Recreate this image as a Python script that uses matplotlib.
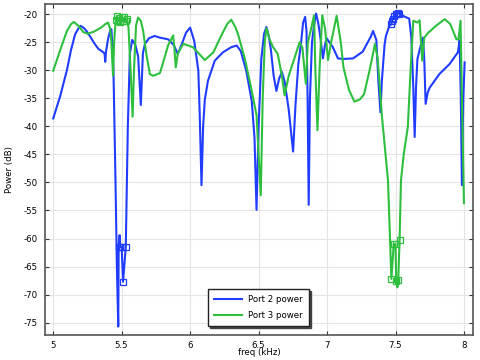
import matplotlib
matplotlib.use("Agg")
import matplotlib.pyplot as plt

# ---- data ----
freq_p2 = [5.00, 5.05, 5.10, 5.13, 5.16, 5.19, 5.20, 5.22, 5.24, 5.27, 5.30, 5.33, 5.36, 5.375, 5.38, 5.385,
           5.40, 5.415, 5.425, 5.44, 5.455, 5.465, 5.475, 5.478, 5.485, 5.49, 5.50, 5.51, 5.53, 5.545,
           5.56, 5.577, 5.60, 5.62, 5.64, 5.655, 5.67, 5.70, 5.74, 5.78, 5.84, 5.88, 5.91, 5.94, 5.97,
           6.00, 6.03, 6.06, 6.07, 6.083, 6.095, 6.107, 6.13, 6.18, 6.24, 6.30, 6.34, 6.37, 6.41, 6.45,
           6.47, 6.485, 6.50, 6.52, 6.54, 6.557, 6.575, 6.59, 6.61, 6.63, 6.65, 6.67, 6.69, 6.72, 6.752,
           6.77, 6.79, 6.81, 6.825, 6.84, 6.85, 6.858, 6.866, 6.875, 6.89, 6.905, 6.92, 6.935, 6.947,
           6.97, 6.985, 6.996, 7.04, 7.08, 7.12, 7.19, 7.26, 7.32, 7.336, 7.36, 7.375, 7.39, 7.40, 7.42,
           7.43, 7.455, 7.47, 7.475, 7.48, 7.49, 7.50, 7.51, 7.52, 7.525, 7.55, 7.57, 7.60, 7.615, 7.63,
           7.64, 7.65, 7.66, 7.68, 7.70, 7.71, 7.72, 7.735, 7.75, 7.82, 7.895, 7.956, 7.968, 7.977,
           7.985, 7.995, 8.005]
p2_db = [-38.6, -34.7, -30.0, -26.4, -23.6, -22.3, -22.1, -22.4, -22.9, -24.0, -25.2, -26.2, -26.7, -27.0, -28.5, -26.8,
         -24.5, -23.0, -22.7, -30.0, -50.0, -65.0, -75.7, -61.5, -59.4, -61.5, -61.5, -67.7, -61.5, -40.0,
         -27.0, -24.6, -25.5, -27.5, -36.2, -27.0, -25.3, -24.3, -23.9, -24.2, -24.5, -25.5, -27.1, -25.3, -23.3,
         -22.4, -24.8, -30.1, -37.8, -50.5, -40.0, -35.3, -31.9, -28.3, -26.8, -25.9, -25.6, -26.6, -30.1, -35.5,
         -42.0, -54.9, -40.0, -28.0, -23.5, -22.3, -24.0, -26.4, -31.0, -33.7, -31.5, -30.3, -32.0, -37.0, -44.5,
         -36.0, -29.0, -25.2, -21.5, -20.5, -23.0, -35.0, -54.0, -35.0, -25.0, -22.0, -19.9, -21.5, -23.4,
         -27.9, -25.5, -24.3, -25.8, -27.9, -28.0, -27.9, -26.7, -24.0, -23.0, -24.6, -32.0, -37.5, -32.0, -25.5,
         -23.9, -22.1, -21.8, -21.2, -20.9, -20.3, -20.0, -19.9, -19.8, -19.9, -20.2, -20.5, -20.8, -24.0, -33.0,
         -41.9, -33.0, -28.0, -26.0, -24.2, -28.0, -36.0, -34.0, -33.1, -30.7, -28.9, -26.8, -24.7, -35.0,
         -50.5, -35.0, -28.6]

freq_p3 = [5.00, 5.05, 5.10, 5.13, 5.15, 5.18, 5.22, 5.25, 5.30, 5.35, 5.38, 5.40, 5.415, 5.425, 5.437,
           5.445, 5.455, 5.46, 5.465, 5.47, 5.48, 5.49, 5.50, 5.51, 5.52, 5.53, 5.54, 5.55, 5.565, 5.58,
           5.59, 5.605, 5.62, 5.64, 5.657, 5.68, 5.706, 5.73, 5.78, 5.81, 5.84, 5.876, 5.885, 5.895, 5.91,
           5.95, 6.02, 6.07, 6.107, 6.17, 6.22, 6.27, 6.30, 6.33, 6.35, 6.40, 6.44, 6.485, 6.50, 6.516,
           6.53, 6.545, 6.557, 6.58, 6.606, 6.64, 6.67, 6.69, 6.72, 6.76, 6.80, 6.82, 6.845, 6.86, 6.88,
           6.905, 6.915, 6.93, 6.945, 6.965, 6.985, 7.007, 7.03, 7.07, 7.10, 7.12, 7.16, 7.20, 7.24, 7.27,
           7.31, 7.35, 7.37, 7.40, 7.445, 7.47, 7.487, 7.50, 7.505, 7.514, 7.52, 7.53, 7.54, 7.56, 7.59,
           7.61, 7.63, 7.66, 7.676, 7.695, 7.71, 7.74, 7.80, 7.86, 7.90, 7.945, 7.96, 7.975, 7.985, 8.00]
p3_db = [-30.1, -26.5, -23.0, -21.8, -21.4, -22.0, -23.2, -23.5, -23.1, -22.4, -21.8, -21.5, -22.5, -25.0, -31.0,
         -25.0, -21.5, -21.0, -20.4, -21.3, -20.7, -21.4, -20.5, -21.2, -20.6, -21.3, -20.9, -22.5, -30.0, -38.3,
         -30.0, -22.0, -20.6, -21.2, -23.0, -27.1, -30.7, -31.0, -30.5, -28.0, -25.5, -23.8, -26.0, -29.5, -27.0,
         -25.3, -25.9, -27.2, -28.2, -26.8, -24.2, -21.8, -21.0, -22.3, -23.6, -28.0, -32.5, -38.0, -45.0, -52.3,
         -35.0, -25.0, -22.5, -24.5, -25.9, -27.1, -31.0, -34.5, -31.0, -28.0, -25.0, -26.0, -32.4, -25.0, -23.0,
         -20.2, -30.0, -40.7, -30.0, -20.2, -22.5, -28.2, -25.0, -20.3, -25.0, -29.5, -33.5, -35.6, -35.2, -34.3,
         -30.1, -25.3, -28.0, -38.0, -49.6, -67.2, -61.0, -61.0, -67.5, -68.7, -67.4, -60.2, -49.6, -45.0, -40.1,
         -30.0, -21.2, -21.5, -21.1, -28.3, -24.2, -23.3, -22.0, -20.9, -21.8, -24.5, -24.5, -21.2, -35.0, -53.7]

# marker points
p2_mark_freq = [5.478, 5.49, 5.50, 5.51, 5.53, 7.47, 7.475, 7.48, 7.49, 7.50, 7.51, 7.52, 7.525]
p2_mark_db = [-61.5, -61.5, -61.5, -67.7, -61.5, -21.8, -21.2, -20.9, -20.3, -20.0, -19.9, -19.8, -19.9]
p3_mark_freq = [5.46, 5.465, 5.47, 5.48, 5.49, 5.50, 5.51, 5.52, 5.53, 5.54, 7.47, 7.487, 7.50, 7.505, 7.52, 7.53]
p3_mark_db = [-21.0, -20.4, -21.3, -20.7, -21.4, -20.5, -21.2, -20.6, -21.3, -20.9, -67.2, -61.0, -61.0, -67.5, -67.4, -60.2]

x_ticks = [5, 5.5, 6, 6.5, 7, 7.5, 8]
x_ticklabels = ["5", "5.5", "6", "6.5", "7", "7.5", "8"]
y_ticks = [-75, -70, -65, -60, -55, -50, -45, -40, -35, -30, -25, -20]
series_names = ["Port 2 power", "Port 3 power"]

BLUE = "#1f3cff"
GREEN = "#2fbf3f"

plt.rcParams['font.family'] = ['DejaVu Sans']
plt.rcParams['axes.unicode_minus'] = False
fig = plt.figure(figsize=(4.81, 3.60), dpi=100)
ax = fig.add_axes([45/481, 1-335/360, (473-45)/481, (335-4)/360])

ax.plot(freq_p2, p2_db, color=BLUE, lw=1.5, label=series_names[0], zorder=3)
ax.plot(freq_p3, p3_db, color=GREEN, lw=1.5, label=series_names[1], zorder=3)
ax.plot(p2_mark_freq, p2_mark_db, ls='none', marker='s', ms=5, mfc='none', mec=BLUE, mew=0.9, zorder=4)
ax.plot(p3_mark_freq, p3_mark_db, ls='none', marker='s', ms=5, mfc='none', mec=GREEN, mew=0.9, zorder=4)

ax.set_xlim(4.94, 8.066)
ax.set_ylim(-77.2, -18.2)
ax.set_xticks(x_ticks)
ax.set_xticklabels(x_ticklabels)
ax.set_yticks(y_ticks)
ax.grid(True, color='#e4e4e4', lw=0.8)
ax.set_axisbelow(True)
ax.tick_params(direction='in', top=True, right=True, length=3, width=0.8, labelsize=6.2, colors='#333333',
               labelcolor='black')
ax.tick_params(axis='x', pad=4)
ax.tick_params(axis='y', pad=5)
for s in ax.spines.values():
    s.set_color('#555555')
    s.set_linewidth(1.2)

ax.set_xlabel("freq (kHz)", fontsize=6.2, labelpad=-1)
ax.set_ylabel("Power (dB)", fontsize=6.2, labelpad=7)

leg = ax.legend(loc='lower center', bbox_to_anchor=(0.499, 0.027), borderaxespad=0, fontsize=6.2,
                frameon=True, fancybox=False,
                shadow={'ox': 1.2, 'oy': -1.2, 'color': '#444444', 'alpha': 1.0},
                handlelength=3.2, borderpad=0.7, labelspacing=0.8, framealpha=1.0)
leg.get_frame().set_edgecolor('#222222')
leg.get_frame().set_linewidth(1.0)

fig.savefig("out.png", dpi=100)
